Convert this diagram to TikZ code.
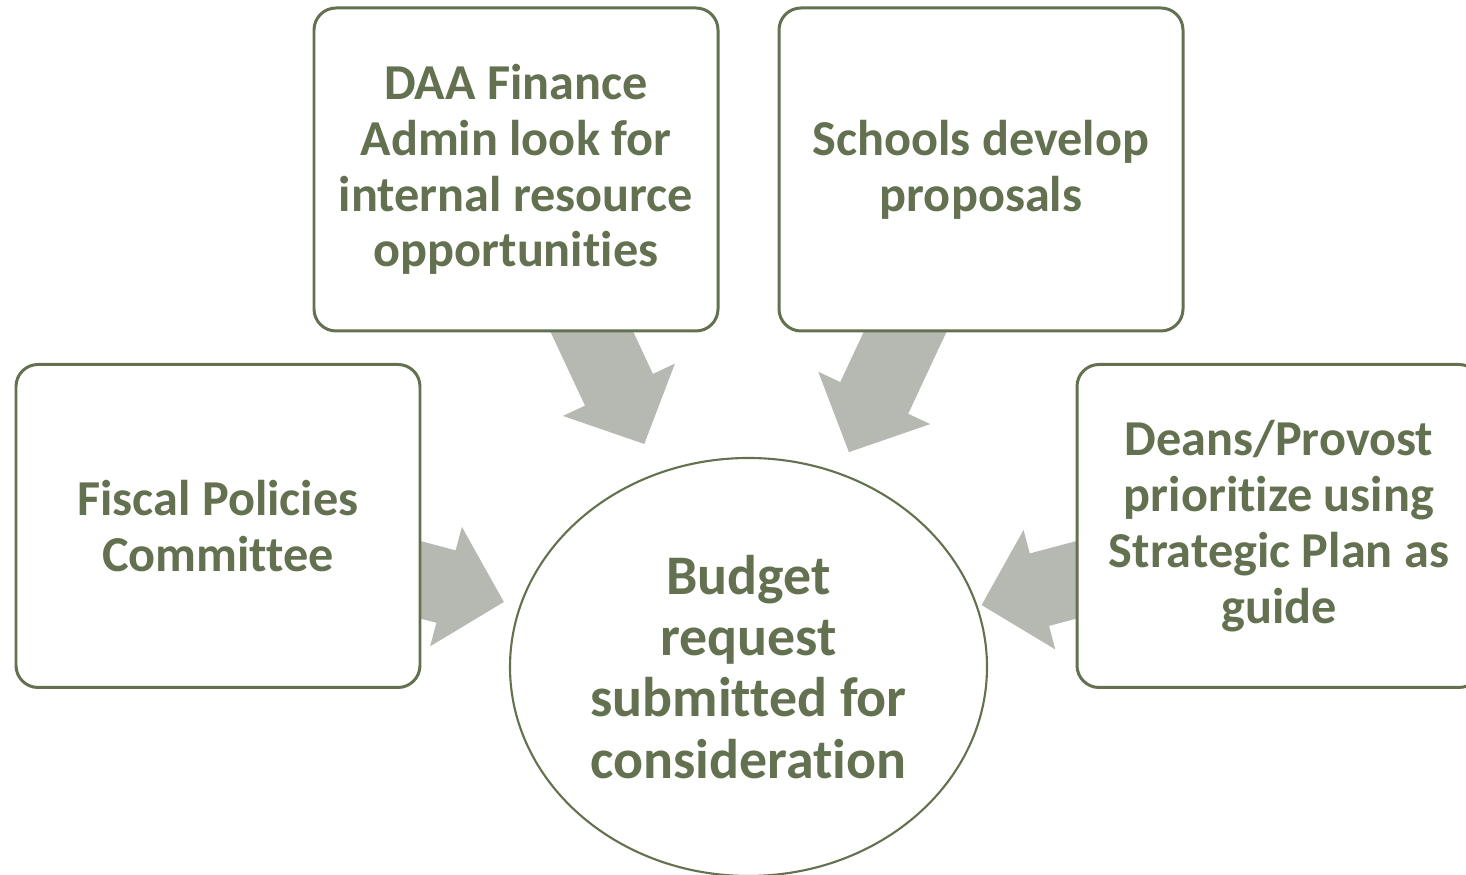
\documentclass[tikz,border=0pt]{standalone}
\usepackage{fontspec}
\setmainfont{Carlito}[Ligatures={NoCommon}]
\usetikzlibrary{arrows.meta, shapes.geometric, backgrounds}
\definecolor{SageText}{HTML}{637150}
\definecolor{ArrowGray}{HTML}{B6B9B1}

\begin{document}
\begin{tikzpicture}[
    stepbox/.style={draw=SageText, line width=0.85pt, fill=white, rounded corners=0.22cm,
        minimum width=4.04cm, minimum height=3.23cm, align=center, text=SageText,
        font=\fontsize{14.3pt}{15.9pt}\selectfont\bfseries},
    goal/.style={ellipse, draw=SageText, line width=0.6pt, fill=white,
        minimum width=4.77cm, minimum height=4.18cm, inner sep=0pt, align=center, text=SageText,
        font=\fontsize{15.9pt}{17.4pt}\selectfont\bfseries},
    feed/.style={draw=ArrowGray, line width=0.75cm, -{Triangle[length=0.6cm, width=1.2cm]}, shorten <=1.3cm}
]
    \clip (0, 0) rectangle (14.66, 8.75);

    % Inputs
    \node[stepbox] (fiscal) at (2.18, 3.49) {Fiscal Policies\\Committee};
    \node[stepbox] (daa) at (5.16, 7.055) {DAA Finance\\Admin look for\\internal resource\\opportunities};
    \node[stepbox] (schools) at (9.81, 7.055) {Schools develop\\proposals};
    \node[stepbox] (deans) at (12.79, 3.49) {Deans/Provost\\prioritize using\\Strategic Plan as\\guide};

    % Center
    \node[goal] (budget) at (7.485, 2.08) {Budget\\request\\submitted for\\consideration};

    % Block arrows (under the boxes)
    \begin{scope}[on background layer]
        \draw[feed, shorten >=2.46cm] (daa.center) -- (budget.center);
        \draw[feed, shorten >=2.37cm] (schools.center) -- (budget.center);
        \draw[feed, shorten >=2.53cm] (fiscal.center) -- (budget.center);
        \draw[feed, shorten >=2.41cm] (deans.center) -- (budget.center);
    \end{scope}
\end{tikzpicture}
\end{document}
